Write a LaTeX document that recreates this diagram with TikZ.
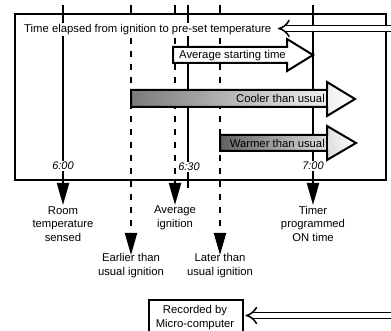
\documentclass[tikz,border=0pt]{standalone}
\usepackage{fontspec}
\setmainfont{Liberation Sans}
\usetikzlibrary{arrows.meta}
\tikzset{
  frameline/.style={line width=2.4pt},
  tline/.style={line width=2pt},
  dline/.style={line width=2pt, dash pattern=on 6pt off 7pt},
  downtip/.style={-{Triangle[length=22pt,width=12pt]}},
  lbl/.style={font=\fontsize{11.3}{14}\selectfont, align=center, inner sep=0pt},
  tm/.style={font=\fontsize{11}{13}\selectfont\itshape, fill=white, inner sep=1pt},
  arrowbox/.style={line width=2pt, line join=miter},
  dbl/.style={double, double distance=4.6pt, line width=1.5pt},
}
\begin{document}
\begin{tikzpicture}[x=1pt,y=-1pt]
\useasboundingbox (0,0) rectangle (391,331);
\clip (0,0) rectangle (391,331);

% main frame
\node (frame) [draw, frameline, fill=white, minimum width=371pt, minimum height=166pt, inner sep=0pt, anchor=north west] at (14,13) {};

% time lines
\coordinate (t600a) at (63,5);   \coordinate (t600b) at (63,205);
\coordinate (eara) at (131,5);   \coordinate (earm) at (131,13); \coordinate (eard) at (131,38); \coordinate (earb) at (131,255);
\coordinate (avga) at (175,5);   \coordinate (avgm) at (175,13); \coordinate (avgd) at (175,38); \coordinate (avgb) at (175,205);
\coordinate (t630a) at (188,5);  \coordinate (t630b) at (188,188);
\coordinate (lata) at (220,5);   \coordinate (latm) at (220,13); \coordinate (latd) at (220,38); \coordinate (latb) at (220,255);
\coordinate (t700a) at (313,5);  \coordinate (t700b) at (313,205);

\draw[tline, downtip] (t600a) -- (t600b);
\draw[tline] (eara) -- (earm);
\draw[dline, downtip] (eard) -- (earb);
\draw[tline] (avga) -- (avgm);
\draw[dline, downtip] (avgd) -- (avgb);
\draw[tline] (t630a) -- (t630b);
\draw[tline] (lata) -- (latm);
\draw[dline, downtip] (latd) -- (latb);
\draw[tline, downtip] (t700a) -- (t700b);

% title
\node[lbl, fill=white, inner sep=1pt, anchor=base west] (title) at (23,32.5) {Time elapsed from ignition to pre-set temperature};

% average starting time arrow
\draw[arrowbox, fill=white] (173,47) -- (287,47) -- (287,39) -- (313,55) -- (287,71) -- (287,63) -- (173,63) -- cycle;
\node[lbl, anchor=base west] (avgtxt) at (179,59) {Average starting time};

% cooler than usual
\draw[arrowbox, left color=black!52, right color=white] (131,90) -- (327,90) -- (327,82) -- (355,99) -- (327,116) -- (327,107) -- (131,107) -- cycle;
\draw[arrowbox] (327,90) -- (327,107);
\node[lbl, anchor=base east] (cooltxt) at (325,103) {Cooler than usual};

% warmer than usual
\draw[arrowbox, left color=black!62, right color=white] (220,135) -- (327,135) -- (327,126) -- (356,143) -- (327,160) -- (327,151) -- (220,151) -- cycle;
\draw[arrowbox] (327,135) -- (327,151);
\node[lbl, anchor=base east] (warmtxt) at (325,147.5) {Warmer than usual};

% time labels
\node[tm, anchor=base] (l600) at (63,170) {6:00};
\node[tm, anchor=base] (l630) at (189,171) {6:30};
\node[tm, anchor=base] (l700) at (313,170) {7:00};

% lower labels (base anchor = last line)
\node[lbl, anchor=base] (room) at (63,242) {Room\\temperature\\sensed};
\node[lbl, anchor=base] (avgign) at (175,227.5) {Average\\ignition};
\node[lbl, anchor=base] (timer) at (313,242) {Timer\\programmed\\ON time};
\node[lbl, anchor=base] (earlier) at (131,276) {Earlier than\\usual ignition};
\node[lbl, anchor=base] (later) at (220,276) {Later than\\usual ignition};

% recorded box
\node (rec) [draw, frameline, fill=white, minimum width=94pt, minimum height=50pt, inner sep=0pt, anchor=north west] at (148,299) {};
\node[lbl, anchor=base] (rectxt) at (195,327.5) {Recorded by\\Micro-computer};

% double arrows
\coordinate (topsrc) at (400,28.5);
\coordinate (toptip) at (278,28.5);
\draw[dbl, -{Implies[length=3pt,width=8pt]}] (topsrc) -- (toptip);
\coordinate (botsrc) at (400,315.5);
\draw[dbl, -{Implies}] (botsrc) -- ([xshift=1pt]rec.east |- botsrc);
\end{tikzpicture}
\end{document}
